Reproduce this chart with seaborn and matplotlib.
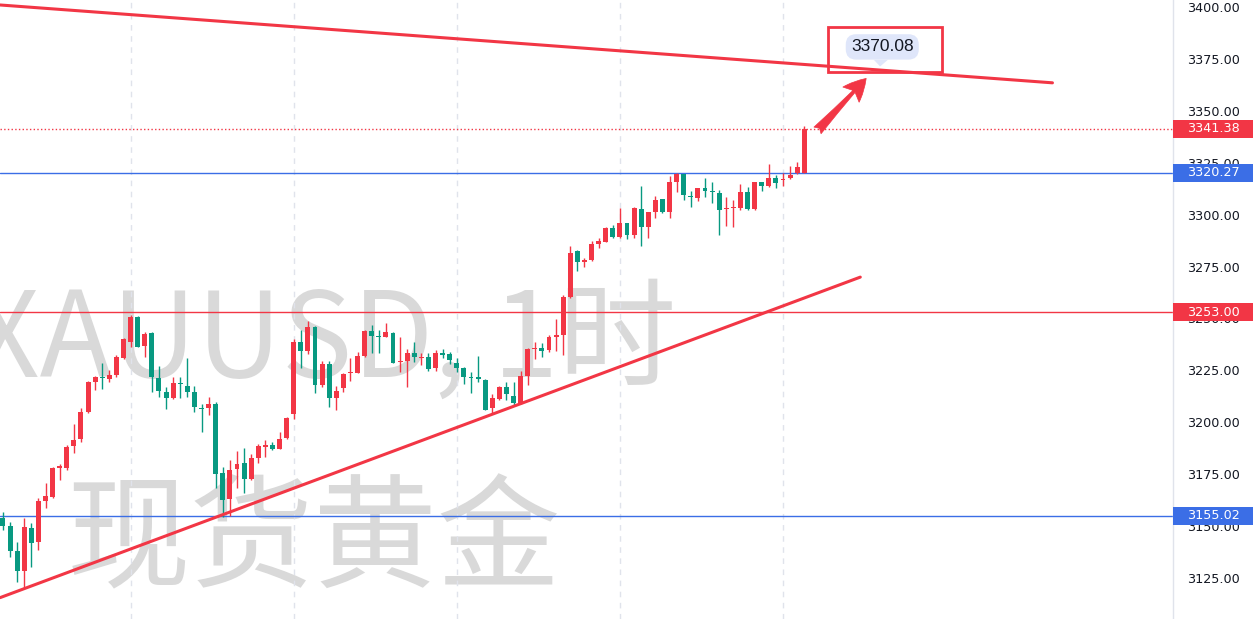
import numpy as np
import pandas as pd
import seaborn as sns
import matplotlib.pyplot as plt
from matplotlib.patches import Rectangle, Polygon
from matplotlib.transforms import blended_transform_factory

# hourly XAUUSD candles (red = up, green = down)
opens = [3153.7, 3150.2, 3138.0, 3128.3, 3149.2, 3142.2, 3162.0, 3164.1, 3178.0, 3177.8,
         3188.7, 3191.9, 3204.8, 3219.5, 3221.9, 3220.8, 3222.7, 3231.1, 3238.5, 3250.5,
         3236.8, 3243.1, 3221.4, 3214.7, 3211.5, 3219.0, 3217.6, 3214.4, 3207.0, 3207.0,
         3208.8, 3175.4, 3163.0, 3177.3, 3180.2, 3172.6, 3182.9, 3188.2, 3189.0, 3187.2,
         3192.2, 3204.0, 3238.5, 3234.4, 3245.7, 3217.9, 3227.9, 3211.8, 3216.6, 3223.5,
         3223.8, 3231.9, 3244.1, 3241.5, 3241.2, 3243.1, 3228.8, 3229.6, 3233.5, 3230.8,
         3231.5, 3226.0, 3233.2, 3232.7, 3228.7, 3226.3, 3221.9, 3221.9, 3220.3, 3206.7,
         3211.2, 3216.8, 3212.8, 3209.1, 3222.3, 3235.1, 3235.6, 3234.8, 3240.9, 3242.0,
         3260.5, 3282.5, 3277.0, 3278.1, 3286.0, 3287.0, 3293.4, 3289.4, 3296.1, 3290.2,
         3302.7, 3294.2, 3301.1, 3307.4, 3301.4, 3315.8, 3319.6, 3308.9, 3307.8, 3312.7,
         3311.4, 3310.3, 3302.5, 3303.0, 3303.0, 3311.0, 3302.5, 3315.6, 3313.8, 3317.5,
         3316.7, 3317.5, 3319.9, 3320.2]
highs = [3156.6, 3152.1, 3142.4, 3153.7, 3151.3, 3163.6, 3170.6, 3178.6, 3179.7, 3189.0,
         3199.0, 3206.7, 3219.8, 3222.4, 3228.4, 3225.1, 3232.4, 3240.4, 3251.6, 3251.2,
         3243.6, 3243.6, 3227.1, 3217.1, 3221.9, 3221.9, 3230.8, 3217.4, 3208.6, 3212.3,
         3209.9, 3178.6, 3181.8, 3186.1, 3187.7, 3184.5, 3189.5, 3191.4, 3190.6, 3195.3,
         3202.7, 3240.1, 3244.4, 3248.9, 3246.3, 3229.5, 3229.5, 3217.4, 3223.8, 3231.1,
         3234.0, 3244.4, 3246.8, 3244.4, 3247.9, 3243.6, 3240.9, 3235.3, 3238.8, 3233.2,
         3233.2, 3234.8, 3235.1, 3234.0, 3230.8, 3226.7, 3224.0, 3232.0, 3220.8, 3213.4,
         3217.6, 3219.5, 3219.5, 3224.7, 3235.6, 3238.8, 3238.0, 3242.0, 3249.6, 3261.3,
         3284.9, 3283.0, 3278.9, 3287.3, 3288.9, 3294.2, 3295.0, 3303.3, 3296.1, 3303.8,
         3313.9, 3301.4, 3309.1, 3307.5, 3318.7, 3319.9, 3319.6, 3311.5, 3313.0, 3317.5,
         3315.8, 3311.8, 3308.6, 3307.0, 3314.7, 3313.1, 3315.8, 3315.8, 3324.4, 3319.1,
         3319.9, 3323.4, 3325.2, 3342.5]
lows = [3148.1, 3135.2, 3123.2, 3120.0, 3130.4, 3138.4, 3158.8, 3163.6, 3172.1, 3177.0,
        3185.0, 3190.3, 3204.3, 3215.5, 3216.0, 3219.5, 3221.9, 3230.4, 3236.4, 3236.1,
        3231.5, 3214.4, 3212.3, 3206.2, 3211.2, 3211.5, 3212.3, 3205.0, 3195.1, 3203.5,
        3168.4, 3154.5, 3155.0, 3168.2, 3165.8, 3172.1, 3180.2, 3183.4, 3186.6, 3187.0,
        3191.8, 3201.5, 3226.0, 3232.8, 3214.2, 3216.8, 3207.5, 3205.9, 3214.7, 3219.8,
        3223.5, 3231.3, 3233.2, 3233.5, 3240.9, 3228.4, 3224.3, 3216.8, 3229.2, 3227.6,
        3224.6, 3224.6, 3230.8, 3227.9, 3224.3, 3218.2, 3214.0, 3219.5, 3205.9, 3204.3,
        3210.7, 3210.7, 3208.3, 3208.6, 3217.9, 3230.4, 3231.5, 3234.0, 3234.4, 3232.4,
        3259.7, 3272.8, 3274.9, 3277.6, 3283.8, 3286.7, 3288.6, 3288.9, 3288.3, 3288.9,
        3285.0, 3288.9, 3298.5, 3300.6, 3298.2, 3311.0, 3307.0, 3303.5, 3306.7, 3308.3,
        3305.7, 3290.2, 3294.5, 3294.2, 3302.2, 3302.2, 3302.2, 3311.4, 3313.4, 3312.7,
        3313.9, 3317.0, 3319.6, 3319.9]
closes = [3150.1, 3138.0, 3128.3, 3149.5, 3141.8, 3162.0, 3164.6, 3177.8, 3178.8, 3188.2,
          3191.4, 3204.8, 3219.2, 3221.9, 3221.1, 3222.7, 3231.5, 3240.0, 3250.8, 3236.4,
          3242.3, 3221.9, 3215.0, 3211.5, 3219.0, 3218.2, 3214.4, 3207.5, 3206.5, 3208.8,
          3174.9, 3162.5, 3177.0, 3179.9, 3172.6, 3182.9, 3188.7, 3188.9, 3187.0, 3192.0,
          3201.9, 3238.5, 3234.4, 3246.0, 3217.9, 3227.9, 3211.8, 3215.2, 3223.2, 3224.2,
          3231.9, 3243.9, 3241.7, 3240.9, 3243.3, 3228.7, 3229.5, 3233.2, 3231.3, 3231.5,
          3225.6, 3233.2, 3232.4, 3230.0, 3226.3, 3221.9, 3221.4, 3220.7, 3205.9, 3211.5,
          3217.1, 3213.4, 3209.1, 3222.3, 3235.1, 3235.6, 3234.3, 3241.2, 3242.0, 3260.4,
          3281.6, 3277.0, 3278.1, 3285.7, 3287.3, 3293.7, 3289.4, 3296.1, 3290.2, 3303.0,
          3294.2, 3301.1, 3307.0, 3301.4, 3315.6, 3319.6, 3309.4, 3308.3, 3312.7, 3311.4,
          3310.7, 3302.2, 3303.0, 3303.8, 3311.0, 3302.5, 3315.6, 3313.9, 3317.5, 3315.1,
          3317.0, 3319.1, 3323.1, 3341.38]

day_breaks = [18, 41, 64, 87, 110]
price_ticks = [3125, 3150, 3175, 3200, 3225, 3250, 3275, 3300, 3325, 3350, 3375, 3400]
level_prices = [3341.38, 3320.27, 3253.00, 3155.02]
level_colors = ['#f23645', '#3b6ee6', '#f23645', '#3b6ee6']
level_styles = [':', '-', '-', '-']
upper_trend_x = [-0.4, 148.0]
upper_trend_y = [3401.0, 3363.5]
lower_trend_x = [-0.4, 120.9]
lower_trend_y = [3115.5, 3269.9]
target_text = '3370.08'
watermark_lines = ['XAUUSD, 1时', '现货黄金']

UP = '#f23645'
DOWN = '#089981'

sns.set_style('white')
plt.rcParams['font.family'] = ['DejaVu Sans', 'Noto Sans CJK SC']

df = pd.DataFrame({'open': opens, 'high': highs, 'low': lows, 'close': closes})
df['idx'] = np.arange(len(df))
df['color'] = np.where(df['close'] >= df['open'], UP, DOWN)
df['bottom'] = df[['open', 'close']].min(axis=1)
df['body'] = (df['close'] - df['open']).abs().clip(lower=0.5)

fig = plt.figure(figsize=(12.53, 6.19), dpi=100)
ax = fig.add_axes([0, 0, 1173 / 1253, 1])
ax.set_xlim(-0.42, 165.0)
ax.set_ylim(3105.2, 3403.4)

# watermark
wm = dict(color='#d9d9d9', family=['Noto Sans CJK SC'],
          transform=fig.transFigure, zorder=0.5, va='baseline', ha='left')
ax.text(-0.022, 0.391, watermark_lines[0], fontsize=85, **wm)
ax.text(0.053, 0.066, watermark_lines[1], fontsize=89, **wm)

for d in day_breaks:
    ax.axvline(d, color='#e0e3eb', lw=1, ls=(0, (4, 4)), zorder=1)

# candles
ax.vlines(df['idx'], df['low'], df['high'], colors=df['color'], lw=1, zorder=3)
ax.bar(df['idx'], df['body'], bottom=df['bottom'], width=0.7,
       color=df['color'], linewidth=0, zorder=4)

# trend lines
sns.lineplot(x=upper_trend_x, y=upper_trend_y, color=UP, lw=2.2, ax=ax, zorder=5)
sns.lineplot(x=lower_trend_x, y=lower_trend_y, color=UP, lw=2.2, ax=ax, zorder=5)

# horizontal levels and their price tags
tr = blended_transform_factory(ax.transAxes, ax.transData)
tag_w = 1253 / 1173 - 1
tag_h = 18 * (3403.4 - 3105.2) / 619
for p, c, s in zip(level_prices, level_colors, level_styles):
    ax.axhline(p, color=c, lw=1, ls=s, zorder=2)
    ax.add_patch(Rectangle((1.0, p - tag_h / 2), tag_w, tag_h, transform=tr,
                           facecolor=c, edgecolor='none', clip_on=False, zorder=6))
    ax.text(1.0 + tag_w * 0.5, p, f'{p:.2f}', transform=tr, ha='center', va='center',
            color='white', fontsize=9.2, clip_on=False, zorder=7)

# target callout
ax.annotate('', xy=(122.0, 3366.6), xytext=(114.6, 3339.6),
            arrowprops=dict(arrowstyle='fancy,head_length=0.8,head_width=0.8,tail_width=0.35',
                            fc=UP, ec=UP, lw=0.5, mutation_scale=20), zorder=6)
ax.add_patch(Rectangle((116.4, 3368.8), 16.0, 21.6, fill=False, edgecolor=UP,
                       lw=2, zorder=6))
ax.add_patch(Polygon([(122.8, 3374.6), (124.8, 3374.6), (123.7, 3371.4)],
                     closed=True, facecolor='#dfe6fa', edgecolor='none', zorder=6))
ax.text(124.0, 3380.8, target_text, ha='center', va='center', fontsize=12.5,
        family=['Liberation Sans'], color='#131722', zorder=7,
        bbox=dict(boxstyle='round,pad=0.3,rounding_size=0.6', fc='#dfe6fa', ec='none'))

# axes styling
ax.yaxis.tick_right()
ax.set_yticks(price_ticks)
ax.set_yticklabels([f'{v:.2f}' for v in price_ticks])
ax.tick_params(axis='y', length=0, pad=10, labelsize=9.2, labelcolor='#131722')
ax.set_xticks([])
for side in ['top', 'left', 'bottom']:
    ax.spines[side].set_visible(False)
ax.spines['right'].set_color('#e0e3eb')
ax.spines['right'].set_linewidth(1)

fig.savefig('out.png', dpi=100)
